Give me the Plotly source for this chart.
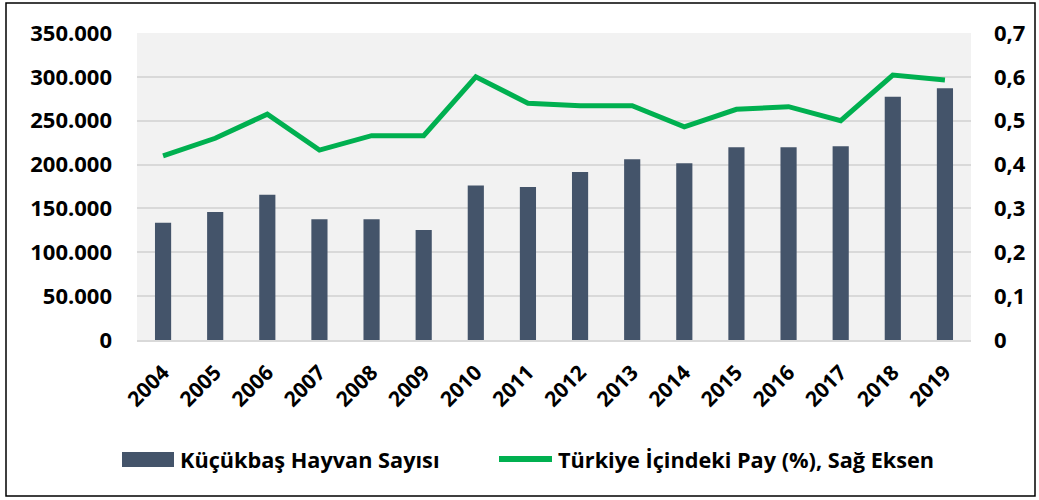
import plotly.graph_objects as go

years = [str(y) for y in range(2004, 2020)]
hayvan = [133700, 146000, 165700, 137600, 137600, 125400, 176000, 174500,
          191500, 206000, 201500, 219700, 219700, 221000, 277400, 287000]
pay = [0.420, 0.460, 0.515, 0.433, 0.466, 0.466, 0.600, 0.540,
       0.534, 0.534, 0.486, 0.526, 0.532, 0.500, 0.604, 0.593]

name_bar = "Küçükbaş Hayvan Sayısı"
name_line = "Türkiye İçindeki Pay (%), Sağ Eksen"

FONT = "Open Sans"
BAR_C = "#44546A"
LINE_C = "#00B050"

fig = go.Figure()
fig.add_trace(go.Bar(x=years, y=hayvan, name=name_bar, marker_color=BAR_C,
                     marker_line_width=0, width=0.31, showlegend=False))
fig.add_trace(go.Scatter(x=years, y=pay, name=name_line, yaxis="y2", mode="lines",
                         line=dict(color=LINE_C, width=5), showlegend=False))

W, H = 1039, 500
L, R, T, B = 137, 971, 33, 340
pw, ph = R - L, B - T

def px(x):
    return (x - L) / pw

def py(y):
    return (B - y) / ph

shapes = [
    dict(type="rect", xref="paper", yref="paper",
         x0=px(6), x1=px(1035), y0=py(496), y1=py(3),
         line=dict(color="black", width=1.5), fillcolor="rgba(0,0,0,0)", layer="below"),
    # legend keys
    dict(type="rect", xref="paper", yref="paper",
         x0=px(122), x1=px(174), y0=py(467), y1=py(452),
         line=dict(width=0), fillcolor=BAR_C),
    dict(type="line", xref="paper", yref="paper",
         x0=px(499), x1=px(552), y0=py(459), y1=py(459),
         line=dict(color=LINE_C, width=6)),
]
annotations = [
    dict(text=name_bar, xref="paper", yref="paper", x=px(178), y=py(459),
         xanchor="left", yanchor="middle", showarrow=False,
         font=dict(family=FONT, size=21.7, color="black", weight="bold")),
    dict(text=name_line, xref="paper", yref="paper", x=px(556), y=py(459),
         xanchor="left", yanchor="middle", showarrow=False,
         font=dict(family=FONT, size=21.7, color="black", weight="bold")),
]

fig.update_layout(
    width=W, height=H,
    margin=dict(l=L, r=W - R, t=T, b=H - B, autoexpand=False),
    paper_bgcolor="white", plot_bgcolor="#F2F2F2",
    separators=",.",
    font=dict(family=FONT, color="black", size=20),
    showlegend=False,
    xaxis=dict(type="category", tickangle=-45, showgrid=False,
               tickfont=dict(family=FONT, size=21, weight="bold"),
               showline=True, linecolor="#D9D9D9", linewidth=2, ticks="",
               ticklabelstandoff=10),
    yaxis=dict(range=[0, 350000], dtick=50000, tickformat=",d",
               gridcolor="#D9D9D9", gridwidth=1.5, zeroline=False, showline=False,
               tickfont=dict(family=FONT, size=22, weight="bold"),
               ticklabelstandoff=24),
    yaxis2=dict(range=[0, 0.7], dtick=0.1, overlaying="y", side="right",
                showgrid=False, zeroline=False, showline=False,
                tickfont=dict(family=FONT, size=22, weight="bold"),
                ticklabelstandoff=22),
    shapes=shapes,
    annotations=annotations,
)

fig.write_html("out.html", config={"displayModeBar": False},
               post_script="document.body.style.margin='0px';document.body.style.overflow='hidden';")
